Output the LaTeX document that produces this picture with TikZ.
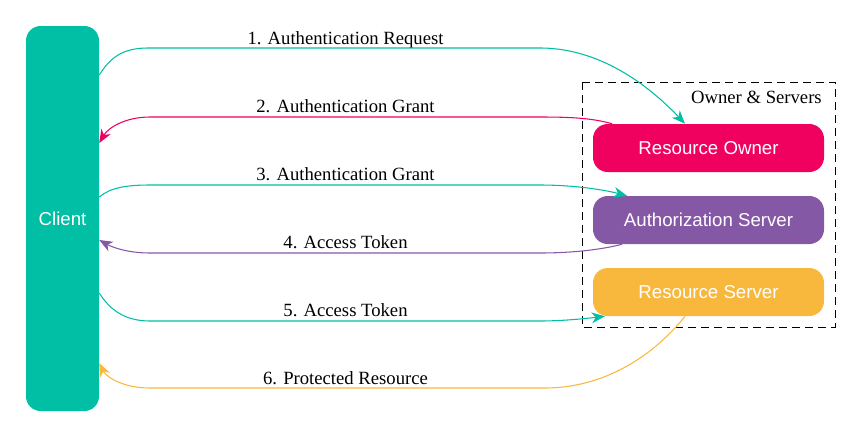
\documentclass[tikz,border=0pt]{standalone}
\usepackage{fontspec}
\setmainfont{Liberation Serif}
\newfontfamily\arialfont{Liberation Sans}
\usetikzlibrary{arrows.meta}
\definecolor{clientteal}{RGB}{0,191,165}
\definecolor{ownerpink}{RGB}{240,0,95}
\definecolor{authpurple}{RGB}{133,88,165}
\definecolor{serverorange}{RGB}{248,184,62}

\begin{document}
\begin{tikzpicture}[x=0.75pt,y=-0.75pt,
    box/.style={rectangle,rounded corners=11pt,fill=#1,text=white,inner sep=0pt,
        font=\arialfont\fontsize{14}{16}\selectfont,minimum width=173.25pt,minimum height=36pt},
    msg/.style={draw=#1,line width=0.8pt,-{Stealth[length=10pt,width=8pt,inset=3pt]}},
    lbl/.style={font=\fontsize{14}{16}\selectfont,inner sep=0pt,anchor=base}]
\useasboundingbox (0,0) rectangle (851,437);
\node[box=clientteal,minimum width=54.75pt,minimum height=288.75pt] (client) at (62.5,218.5) {Client};
\node[box=ownerpink] (owner) at (708.5,148) {Resource Owner};
\node[box=authpurple] (auth) at (708.5,220) {Authorization Server};
\node[box=serverorange] (server) at (708.5,292) {Resource Server};
\draw[dash pattern=on 6pt off 3.75pt,line width=0.7pt] (582,82) rectangle (835,327);
\node[lbl,anchor=base east] (cluster) at (822,103) {Owner \& Servers};
% messages
\node[lbl] (m1) at (345.5,44) {1. Authentication Request};
\node[lbl] (m2) at (345.5,112) {2. Authentication Grant};
\node[lbl] (m3) at (345.5,180) {3. Authentication Grant};
\node[lbl] (m4) at (345.5,248) {4. Access Token};
\node[lbl] (m5) at (345.5,316) {5. Access Token};
\node[lbl] (m6) at (345.5,384) {6. Protected Resource};
\draw[msg=clientteal] (client.east |- 0,75) .. controls (110,58) and (122,48) .. (148,48)
    -- (540,48) .. controls (605,48) and (655,92) .. (owner.north -| 685,0);
\draw[msg=ownerpink] (owner.north -| 612,0) .. controls (592,118) and (570,117) .. (540,117)
    -- (150,117) .. controls (125,117) and (108,128) .. (client.east |- 0,143);
\draw[msg=clientteal] (client.east |- 0,197) .. controls (110,188) and (125,185) .. (150,185)
    -- (540,185) .. controls (575,185) and (605,190) .. (auth.north -| 627,0);
\draw[msg=authpurple] (auth.south -| 622,0) .. controls (600,250) and (570,253) .. (540,253)
    -- (150,253) .. controls (125,253) and (110,246) .. (client.east |- 0,240);
\draw[msg=clientteal] (client.east |- 0,293) .. controls (110,310) and (125,321) .. (150,321)
    -- (540,321) .. controls (565,321) and (590,318) .. (server.south -| 605,0);
\draw[msg=serverorange] (server.south -| 685,0) .. controls (650,360) and (600,388) .. (545,388)
    -- (150,388) .. controls (120,388) and (105,375) .. (client.east |- 0,363);
\end{tikzpicture}
\end{document}
